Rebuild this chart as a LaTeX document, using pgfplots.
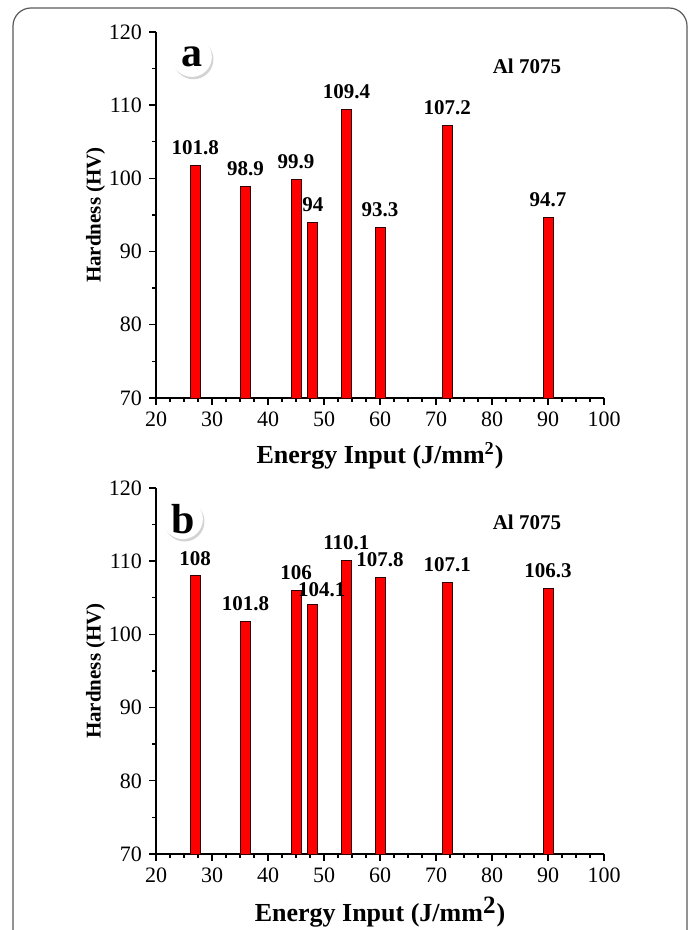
\documentclass[border=0pt]{standalone}
\usepackage{pgfplots}
\pgfplotsset{compat=1.18}
\usepackage{fontspec}
\setmainfont{Liberation Serif}
\usetikzlibrary{shadows}

\pgfplotsset{
  hv/.style={
    scale only axis, width=224pt, height=183pt,
    xmin=20, xmax=100, ymin=70, ymax=120,
    xtick={20,30,...,100}, ytick={70,80,...,120},
    minor x tick num=3, minor y tick num=1,
    axis x line*=bottom, axis y line*=left,
    tick align=outside,
    major tick length=3.5pt, minor tick length=2pt,
    axis line style={line width=0.8pt},
    every tick/.style={line width=0.7pt, black},
    /pgf/number format/assume math mode=true,
    ticklabel style={font=\fontsize{11}{13}\selectfont},
    xlabel style={font=\bfseries\fontsize{13}{15}\selectfont,
      at={(axis description cs:0.5,0)}, anchor=center, yshift=-29pt},
    ylabel style={font=\bfseries\fontsize{10.5}{12}\selectfont, yshift=-5pt},
    ylabel={Hardness (HV)},
    ybar, bar width=5pt,
    clip=false,
    nodes near coords, point meta=explicit symbolic,
    every node near coord/.append style={font=\bfseries\fontsize{10.5}{12}\selectfont, black, inner sep=2pt, yshift=3pt},
  },
  barst/.style={fill=red, draw=black!80!red, line width=0.4pt},
}

\begin{document}
\begin{tikzpicture}
\useasboundingbox (0,0) rectangle (348.5pt,465pt);
\draw[rounded corners=9pt, line width=0.6pt, black!65] (6.5pt,-20pt) rectangle (343.5pt,461pt);

\begin{axis}[hv, at={(78pt,266pt)}, anchor=south west,
  xlabel={Energy Input (J/mm$^{\mathbf{2}}$)}]
\addplot[barst] coordinates {
 (27,101.8) [101.8]
 (36,98.9) [98.9]
 (45,99.9) [99.9]
 (48,94) [94]
 (54,109.4) [109.4]
 (60,93.3) [93.3]
 (72,107.2) [107.2]
 (90,94.7) [94.7]
};
\node[circle, fill=white, minimum size=20pt, inner sep=0pt,
  drop shadow={shadow xshift=0.8pt, shadow yshift=-1.2pt, opacity=0.35},
  font=\bfseries\fontsize{21}{23}\selectfont] at (rel axis cs:0.080,0.932) {a};
\node[font=\bfseries\fontsize{10.5}{12}\selectfont] at (rel axis cs:0.828,0.907) {Al 7075};
\end{axis}

\begin{axis}[hv, at={(78pt,38pt)}, anchor=south west,
  xlabel={Energy Input (J/mm\textsuperscript{\fontsize{12.5}{12.5}\selectfont 2})},
  nodes near coords style={
    /utils/exec={\ifnum\coordindex=3 \pgfkeysalso{xshift=4.5pt,yshift=-1.5pt}\fi}}]
\addplot[barst] coordinates {
 (27,108) [108]
 (36,101.8) [101.8]
 (45,106) [106]
 (48,104.1) [104.1]
 (54,110.1) [110.1]
 (60,107.8) [107.8]
 (72,107.1) [107.1]
 (90,106.3) [106.3]
};
\node[circle, fill=white, minimum size=20pt, inner sep=0pt,
  drop shadow={shadow xshift=0.8pt, shadow yshift=-1.2pt, opacity=0.35},
  font=\bfseries\fontsize{21}{23}\selectfont] at (rel axis cs:0.060,0.915) {b};
\node[font=\bfseries\fontsize{10.5}{12}\selectfont] at (rel axis cs:0.828,0.907) {Al 7075};
\end{axis}
\end{tikzpicture}
\end{document}
